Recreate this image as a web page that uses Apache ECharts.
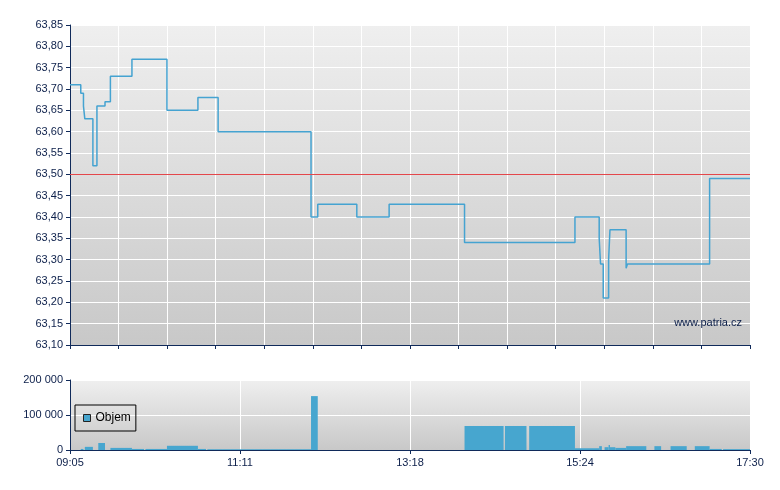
<!DOCTYPE html>
<html>
<head>
<meta charset="utf-8">
<script src="https://cdn.jsdelivr.net/npm/echarts@6/dist/echarts.min.js"></script>
<style>
  html, body { margin: 0; padding: 0; background: #fff; }
  #chart { width: 780px; height: 490px; }
</style>
</head>
<body>
<div id="chart"></div>
<script>
// cena - zmeny kurzu (cas, hodnota)
const priceTimes = ['09:05', '09:13', '09:15', '09:16', '09:22', '09:25', '09:31', '09:35', '09:51', '10:17',
  '10:40', '10:55', '12:04', '12:09', '12:38', '13:02', '13:58', '15:20', '15:38', '15:39',
  '15:41', '15:45', '15:46', '15:58', '15:59', '17:00', '17:30']
const priceValues = [63.71, 63.69, 63.66, 63.63, 63.52, 63.66, 63.67, 63.73, 63.77, 63.65,
  63.68, 63.60, 63.40, 63.43, 63.40, 63.43, 63.34, 63.40, 63.35, 63.29,
  63.21, 63.30, 63.37, 63.28, 63.29, 63.49, 63.49]
const refPrice = 63.5

// objem - intervaly
const volStart = ['09:13', '09:16', '09:26', '09:35', '09:51', '10:01', '10:17', '10:40', '10:47', '12:04',
  '13:58', '14:28', '14:46', '15:20', '15:38', '15:42', '15:45', '15:46', '15:50', '15:58',
  '16:19', '16:31', '16:49', '17:00', '17:10']
const volEnd = ['09:15', '09:22', '09:31', '09:51', '10:00', '10:17', '10:40', '10:46', '12:04', '12:09',
  '14:27', '14:44', '15:20', '15:38', '15:40', '15:45', '15:46', '15:50', '15:58', '16:13',
  '16:24', '16:43', '17:00', '17:09', '17:30']
const volValues = [3000, 9000, 20000, 6000, 3000, 3000, 12000, 3000, 2500, 154000,
  68500, 68500, 68500, 5000, 11000, 8000, 14000, 8000, 6000, 11000,
  11000, 11000, 11000, 3000, 2500]

const dayStart = 9 * 60 + 5
const dayLen = 505
const toMin = (s) => {
  const [h, m] = s.split(':').map(Number)
  return h * 60 + m - dayStart
}
const pad = (n) => (n < 10 ? '0' : '') + n
const fmtTime = (v) => {
  const t = Math.round(v + dayStart)
  return pad(Math.floor(t / 60)) + ':' + pad(t % 60)
}

const axisColor = '#102a5a'
const textColor = '#0c1f4a'
const font = "'Liberation Sans', Arial, sans-serif"
const bg = () => new echarts.graphic.LinearGradient(0, 0, 0, 1, [
  { offset: 0, color: '#efefef' },
  { offset: 1, color: '#c8c8c8' },
])

const chart = echarts.init(document.getElementById('chart'))

chart.setOption({
  animation: false,
  textStyle: { fontFamily: font },
  grid: [
    { left: 70, top: 25, width: 680, height: 320, show: true, backgroundColor: bg(), borderWidth: 0 },
    { left: 70, top: 380, width: 680, height: 70, show: true, backgroundColor: bg(), borderWidth: 0 },
  ],
  legend: {
    left: 75,
    top: 405,
    padding: [7, 5, 7, 8],
    borderColor: '#000',
    borderWidth: 1,
    borderRadius: 0,
    itemWidth: 7,
    itemHeight: 7,
    itemGap: 5,
    textStyle: { fontSize: 12, color: '#000', fontFamily: font },
    data: [{ name: 'Objem', icon: 'rect', itemStyle: { borderColor: '#222', borderWidth: 1 } }],
  },
  xAxis: [
    {
      type: 'value', gridIndex: 0, min: 0, max: dayLen, interval: dayLen / 14,
      axisLine: { lineStyle: { color: axisColor } },
      axisTick: { length: 4, lineStyle: { color: axisColor } },
      axisLabel: { show: false },
      splitLine: { lineStyle: { color: '#fff', width: 1 } },
    },
    {
      type: 'value', gridIndex: 1, min: 0, max: dayLen, interval: 126.25,
      axisLine: { lineStyle: { color: axisColor } },
      axisTick: { length: 4, lineStyle: { color: axisColor } },
      axisLabel: { color: textColor, fontSize: 11, margin: 7, formatter: fmtTime },
      splitLine: { lineStyle: { color: '#fff', width: 1 } },
    },
  ],
  yAxis: [
    {
      type: 'value', gridIndex: 0, min: 63.1, max: 63.85, interval: 0.05,
      axisLine: { show: true, lineStyle: { color: axisColor } },
      axisTick: { show: true, length: 4, lineStyle: { color: axisColor } },
      axisLabel: {
        color: textColor, fontSize: 11, margin: 7,
        formatter: (v) => v.toFixed(2).replace('.', ','),
      },
      splitLine: { lineStyle: { color: '#fff', width: 1 } },
    },
    {
      type: 'value', gridIndex: 1, min: 0, max: 200000, interval: 100000,
      axisLine: { show: true, lineStyle: { color: axisColor } },
      axisTick: { show: true, length: 4, lineStyle: { color: axisColor } },
      axisLabel: {
        color: textColor, fontSize: 11, margin: 7,
        formatter: (v) => String(v).replace(/\B(?=(\d{3})+(?!\d))/g, ' '),
      },
      splitLine: { lineStyle: { color: '#fff', width: 1 } },
    },
  ],
  series: [
    {
      name: 'Kurz',
      type: 'line',
      xAxisIndex: 0,
      yAxisIndex: 0,
      step: 'end',
      symbol: 'none',
      lineStyle: { color: '#45a3d1', width: 1.5 },
      data: priceTimes.map((t, i) => [toMin(t), priceValues[i]]),
      markLine: {
        silent: true,
        symbol: 'none',
        label: { show: false },
        lineStyle: { color: '#e4474b', width: 1, type: 'solid' },
        data: [{ yAxis: refPrice }],
      },
    },
    {
      name: 'Objem',
      type: 'custom',
      xAxisIndex: 1,
      yAxisIndex: 1,
      itemStyle: { color: '#47a6cf' },
      encode: { x: [0, 1], y: 2 },
      data: volStart.map((s, i) => [toMin(s), toMin(volEnd[i]), volValues[i]]),
      renderItem: (params, api) => {
        const p0 = api.coord([api.value(0), api.value(2)])
        const p1 = api.coord([api.value(1), 0])
        return {
          type: 'rect',
          shape: { x: p0[0], y: p0[1], width: Math.max(p1[0] - p0[0], 1), height: p1[1] - p0[1] },
          style: { fill: '#47a6cf' },
        }
      },
    },
  ],
  graphic: [
    {
      type: 'text',
      right: 38,
      top: 317,
      z: 100,
      style: { text: 'www.patria.cz', fill: textColor, fontSize: 11, fontFamily: font },
    },
  ],
})
</script>
</body>
</html>
